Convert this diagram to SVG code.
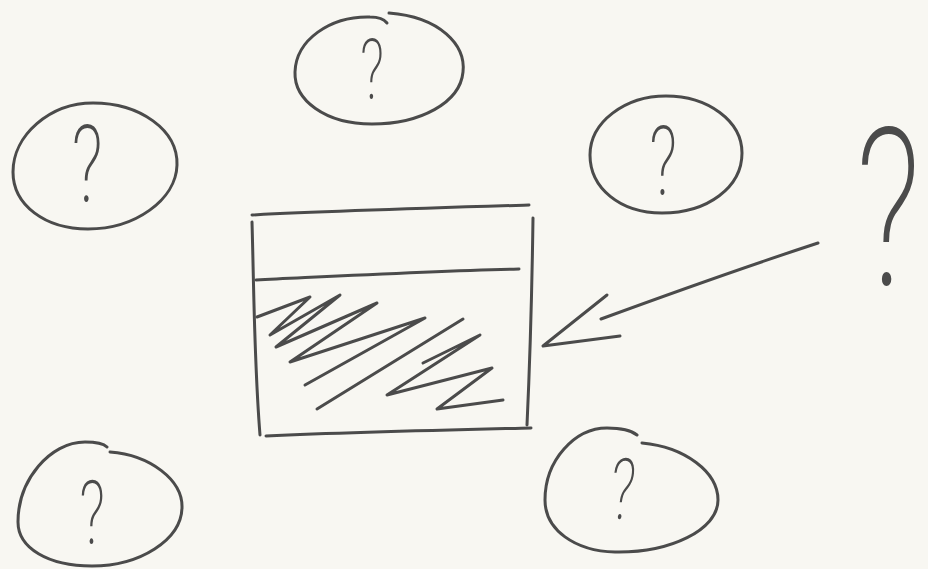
<svg xmlns="http://www.w3.org/2000/svg" width="928" height="569" viewBox="0 0 928 569">
<style>
.pen{fill:none;stroke:#4b4b4b;stroke-width:3;stroke-linecap:round;stroke-linejoin:round}
.q{font-family:"Roboto","Inter","Liberation Sans",sans-serif;font-weight:200;fill:#4b4b4b;text-anchor:middle}
</style>
<rect width="928" height="569" fill="#f8f7f2"/>
<g id="node-top">
<path class="pen" d="M389,13 C440,17 466,45 463,72 C460,103 420,124 372,124 C325,124 294,100 295,72 C296,40 330,16 370,17 C378,17 384,19 387,23"/>
<text class="q" transform="translate(372,99) scale(0.65,1)" font-size="83">?</text>
</g>
<g id="node-left">
<path class="pen" d="M93,103 C140,103 178,130 177,165 C176,200 135,229 88,229 C45,229 13,205 13,172 C13,135 50,103 93,103 Z"/>
<text class="q" transform="translate(87,202) scale(0.65,1)" font-size="108">?</text>
</g>
<g id="node-right-top">
<path class="pen" d="M666,96 C708,96 742,121 742,153 C742,187 708,213 662,213 C620,213 590,188 590,155 C590,122 625,96 666,96 Z"/>
<text class="q" transform="translate(663,195) scale(0.65,1)" font-size="96">?</text>
</g>
<g id="node-bottom-left">
<path class="pen" d="M110,452 C150,455 183,480 182,508 C181,540 140,566 92,566 C48,566 18,548 18,522 C18,480 50,442 85,442 C96,442 104,444 107,447"/>
<text class="q" transform="translate(92,544) scale(0.65,1)" font-size="89">?</text>
</g>
<g id="node-bottom-right">
<path class="pen" d="M642,443 C685,447 718,472 718,500 C718,530 670,553 615,552 C575,551 545,530 545,500 C545,460 575,428 607,428 C622,428 632,431 637,435"/>
<text class="q" transform="translate(620,519) scale(0.65,1) skewX(-8)" font-size="85">?</text>
</g>
<g id="node-window">
<path class="pen" d="M252,215 C330,211 430,208 529,205"/>
<path class="pen" d="M252,222 C254,290 254,360 260,435"/>
<path class="pen" d="M533,218 C532,290 530,360 527,425"/>
<path class="pen" d="M266,436 C360,432 450,430 531,428"/>
<path class="pen" d="M256,280 C340,276 430,271 519,269"/>
<path class="pen" stroke-width="3.5" d="M257,317 L310,297 L270,335 L340,295 L276,347 L377,303 L290,362 L425,318 L305,385"/>
<path class="pen" stroke-width="3.5" d="M463,319 L317,409"/>
<path class="pen" stroke-width="3.5" d="M423,363 L480,335 L387,395 L492,368 L437,409 L503,400"/>
</g>
<g id="node-big-question">
<text class="q" transform="translate(888,285) scale(0.66,1)" font-size="221">?</text>
</g>
<g id="connectors">
<path class="pen" d="M818,243 C760,262 680,290 601,319"/>
<path class="pen" d="M607,295 L543,346 L620,336"/>
</g>
</svg>
